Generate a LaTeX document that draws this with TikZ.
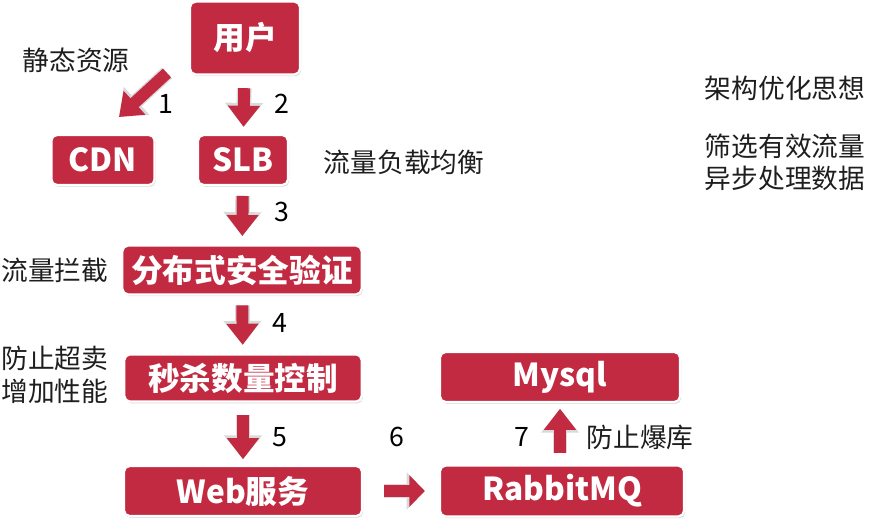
\documentclass[tikz,border=0pt]{standalone}
\usepackage{fontspec}
\setmainfont{Noto Sans CJK SC}
\usepackage{tikz}
\usetikzlibrary{arrows.meta, shadows}
\definecolor{boxred}{RGB}{193,42,64}
\definecolor{inkgray}{RGB}{30,30,30}

\begin{document}
\begin{tikzpicture}[x=0.025cm, y=-0.025cm,
  redbox/.style={fill=boxred, draw=white, line width=1.6pt, rounded corners=4pt,
    text=white, font=\fontsize{22.5}{26}\selectfont\bfseries, inner sep=0pt,
    drop shadow={shadow xshift=0.8pt, shadow yshift=-1.2pt, opacity=0.35}},
  note/.style={text=inkgray, font=\fontsize{19}{23}\selectfont, inner sep=0pt},
  num/.style={text=black, font=\fontsize{19}{23}\selectfont, inner sep=0pt},
  fat/.style={draw=boxred, line width=8.5pt, -{Triangle[width=22pt,length=15pt]},
    preaction={draw=gray!30, line width=10.5pt, -{Triangle[width=26pt,length=17pt]}}},
  short/.style={draw=boxred, line width=8.5pt, -{Triangle[width=22pt,length=11pt]},
    preaction={draw=gray!30, line width=10.5pt, -{Triangle[width=26pt,length=13pt]}}}]
\useasboundingbox (0,0) rectangle (872,520);

% boxes
\node[redbox, minimum width=2.75cm, minimum height=1.82cm] (user) at (245,38) {用户};
\node[redbox, minimum width=2.58cm, minimum height=1.25cm] (cdn) at (103,160) {CDN};
\node[redbox, minimum width=2.25cm, minimum height=1.25cm] (slb) at (243,160) {SLB};
\node[redbox, minimum width=5.98cm, minimum height=1.22cm] (guard) at (242,270) {分布式安全验证};
\node[redbox, minimum width=5.93cm, minimum height=1.18cm] (count) at (243,378) {秒杀数量控制};
\node[redbox, minimum width=5.95cm, minimum height=1.25cm] (web) at (243,491) {Web服务};
\node[redbox, minimum width=6.0cm, minimum height=1.25cm] (mysql) at (560,377) {Mysql};
\node[redbox, minimum width=6.1cm, minimum height=1.27cm] (mq) at (562,491) {RabbitMQ};

% side notes
\node[note] (static) at (76,60) {静态资源};
\node[note] (balance) at (404,162) {流量负载均衡};
\node[note] (block) at (55,270) {流量拦截};
\node[note, align=center] (oversell) at (55,375) {防止超卖\\增加性能};
\node[note] (idea) at (785,88) {架构优化思想};
\node[note, align=center] (ways) at (785,162) {筛选有效流量\\异步处理数据};
\node[note] (protect) at (640,437) {防止爆库};

% arrows
\coordinate (a1s) at (167,73);
\coordinate (a1e) at (119,117);
\draw[fat] (a1s) -- (a1e);
\draw[fat, shorten <=9pt, shorten >=5pt] (user) -- (slb);
\draw[fat, shorten <=7pt, shorten >=6pt] (slb) -- (guard);
\draw[fat, shorten <=7pt, shorten >=6pt] (guard) -- (count);
\draw[fat, shorten <=9pt, shorten >=4pt] (count) -- (web);
\draw[short, shorten <=15pt, shorten >=10pt] (web) -- (mq);
\draw[fat, shorten <=8pt, shorten >=4pt] (mq.north -| mysql.south) -- (mysql.south);

% step numbers
\node[num] (n1) at (166,104) {1};
\node[num] (n2) at (282,104) {2};
\node[num] (n3) at (282,212) {3};
\node[num] (n4) at (280,323) {4};
\node[num] (n5) at (280,437) {5};
\node[num] (n6) at (397,437) {6};
\node[num] (n7) at (522,437) {7};
\end{tikzpicture}
\end{document}
